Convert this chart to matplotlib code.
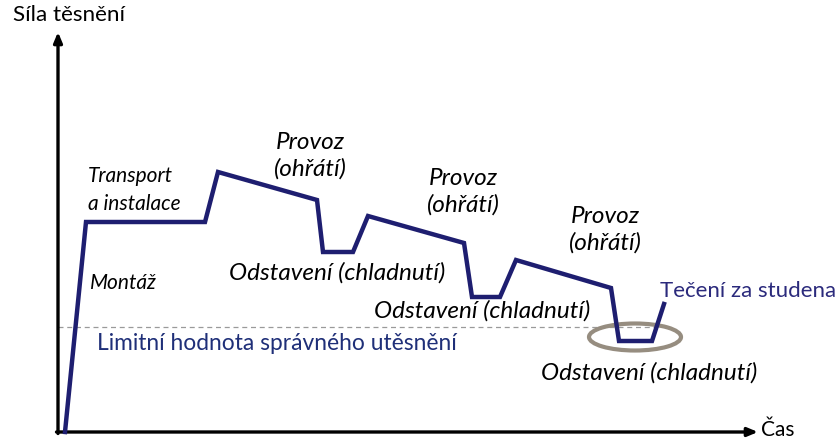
import matplotlib
matplotlib.use("Agg")
import matplotlib.pyplot as plt
from matplotlib.patches import Ellipse

# Data (arbitrary units)
time = [7, 28, 147, 160, 259, 265, 295, 310, 406, 414, 442, 458, 553, 561, 594, 606]
force = [0, 210, 210, 260, 232, 180, 180, 216, 189, 135, 135, 172, 144, 91, 91, 128]
limit_value = 105
limit_end = 597

ylabel = "Síla těsnění"
xlabel = "Čas"
phase_labels = ["Transport\na instalace", "Montáž",
                "Provoz\n(ohřátí)", "Odstavení (chladnutí)"]
limit_label = "Limitní hodnota správného utěsnění"
creep_label = "Tečení za studena"

navy = "#1e1e70"
font = "Lato"

fig = plt.figure(figsize=(8.39, 4.41), dpi=100)
ax = fig.add_axes([0, 0, 1, 1])
ax.set_xlim(-58, 781)
ax.set_ylim(-9, 432)
ax.axis("off")

# axes arrows
arrow = dict(arrowstyle="-|>,head_length=0.6,head_width=0.25", color="black", lw=2.4,
             shrinkA=0, shrinkB=0)
ax.annotate("", xy=(0, 400), xytext=(0, -1.5), arrowprops=arrow)
ax.annotate("", xy=(700, 0), xytext=(-1.5, 0), arrowprops=arrow)

# limit line
ax.plot([0, limit_end], [limit_value, limit_value], ls=(0, (4, 3)), color="#9a9a9a", lw=0.9)

# ellipse highlighting cold flow
ax.add_patch(Ellipse((577, 95), 92, 27, fill=False, ec="#968d80", lw=3, zorder=2))

# main curve
ax.plot(time, force, color=navy, lw=3.2, solid_joinstyle="miter", zorder=3)

# labels
ax.text(-45, 417, ylabel, fontsize=16.2, family=font, va="center", ha="left")
ax.text(703, 2, xlabel, fontsize=15, family=font, va="center", ha="left")

small = dict(fontsize=15, family=font, style="italic", color="black")
big = dict(fontsize=17.5, family=font, style="italic", color="black")
ax.text(30, 242, phase_labels[0], ha="left", va="center", linespacing=1.45, **small)
ax.text(32, 149, phase_labels[1], ha="left", va="center", **small)

for cx, cy in [(252, 276), (405, 240), (547, 202)]:
    ax.text(cx, cy, phase_labels[2], ha="center", va="center", linespacing=1.3, **big)
for cx, cy in [(279, 159), (424, 121), (591, 59)]:
    ax.text(cx, cy, phase_labels[3], ha="center", va="center", **big)

ax.text(39, 89, limit_label, fontsize=16.4, family=font, color="#1f2f78",
        ha="left", va="center")
ax.text(602, 141, creep_label, fontsize=16, family=font, color="#2b2a7c",
        ha="left", va="center")

fig.savefig("out.png", dpi=100)
